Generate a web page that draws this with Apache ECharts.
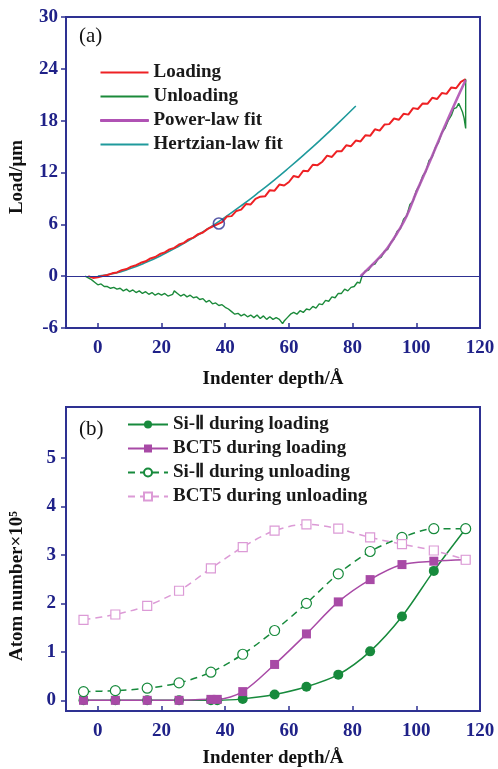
<!DOCTYPE html>
<html>
<head>
<meta charset="utf-8">
<script src="https://cdn.jsdelivr.net/npm/echarts@6/dist/echarts.min.js"></script>
<style>
  html, body { margin: 0; padding: 0; background: #fff; }
  #main { width: 498px; height: 769px; }
</style>
</head>
<body>
<div id="main"></div>
<script>
// ---- panel (a): load vs indenter depth ----
var loading = [
  [-3, 0], [-1.5, -0.2], [0, -0.12], [1.5, 0.02], [3, 0.13], [4.5, 0.33], [6, 0.43], [7.5, 0.7],
  [9, 0.82], [10.5, 1.1], [12, 1.27], [13.5, 1.55], [15, 1.72], [16.5, 2.05], [18, 2.22], [19.5, 2.56],
  [21, 2.76], [22.5, 3.1], [24, 3.27], [25.5, 3.66], [27, 3.86], [28.5, 4.26], [30, 4.46], [31.5, 4.86],
  [33, 5.05], [34.5, 5.47], [36, 5.75], [37.5, 6.0], [39, 6.25], [40.5, 6.9], [42, 6.95], [43.5, 7.55],
  [45, 7.7], [46.5, 8.35], [48, 8.3], [49.5, 8.95], [51, 9.2], [52.5, 9.25], [54, 9.95], [55.5, 9.9],
  [57, 10.6], [58.5, 10.5], [60, 10.9], [61.5, 11.6], [63, 11.45], [64.5, 12.2], [66, 12.15], [67.5, 12.9],
  [69, 12.85], [70.5, 13.25], [72, 13.95], [73.5, 13.8], [75, 14.45], [76.5, 14.45], [78, 15.15], [79.5, 15.05],
  [81, 15.7], [82.5, 15.6], [84, 16.3], [85.5, 16.25], [87, 17.0], [88.5, 16.85], [90, 17.55], [91.5, 17.6],
  [93, 18.25], [94.5, 18.1], [96, 18.8], [97.5, 18.7], [99, 19.45], [100.5, 19.35], [102, 20.0], [103.5, 19.95],
  [105, 20.65], [106.5, 20.5], [108, 21.2], [109.5, 21.1], [111, 21.85], [112.5, 21.75], [114, 22.5], [115.5, 22.8]
];
var unloading = [
  [115.5, 22.8], [115.5, 17.1], [115.0, 18.3], [114.5, 19.0], [113.8, 19.6], [113.3, 20.0], [112.6, 19.5],
  [111.8, 19.4], [111, 18.6], [110, 18.0], [109, 17.1], [108, 16.6], [107, 15.5], [106, 14.9], [105, 13.8],
  [104, 13.4], [103, 12.1], [102, 11.6], [101, 10.5], [100, 9.9], [99, 8.7], [98, 8.3], [97, 7.0], [96, 6.6],
  [95, 5.5], [94, 5.2], [93, 4.3], [92, 3.9], [91, 3.1], [90, 2.9], [89, 2.2], [88, 2.0], [87, 1.4], [86, 1.3],
  [85, 0.7], [84, 0.6], [83, 0.05], [82.6, 0.0], [82.3, -0.8], [81.5, -0.7], [80.5, -1.2], [79.5, -1.3],
  [78.5, -1.7], [77.5, -1.5], [76.5, -2.0], [75.5, -2.0], [74.5, -2.5], [73.5, -2.4], [72.5, -2.9], [71.5, -2.8],
  [70.5, -3.3], [69.5, -3.2], [68.5, -3.7], [67.5, -3.5], [66.5, -3.9], [65.5, -3.8], [64.5, -4.2], [63.5, -4.0],
  [62.5, -4.4], [61.5, -4.2], [60.5, -4.4], [59.5, -4.8], [58.5, -5.2], [58, -5.5], [57, -5.0], [56, -4.8],
  [55, -5.0], [54, -4.7], [53, -5.0], [52, -4.6], [51, -4.9], [50, -4.5], [49, -4.8], [48, -4.5], [47, -4.7],
  [46, -4.4], [45, -4.6], [44, -4.3], [43, -4.4], [42, -4.1], [41, -3.8], [40, -3.6], [39, -3.3], [38, -3.4],
  [37, -3.1], [36, -3.2], [35, -2.8], [34, -3.0], [33, -2.6], [32, -2.7], [31, -2.4], [30, -2.5], [29, -2.2],
  [28, -2.4], [27, -2.1], [26, -2.3], [25, -2.0], [24, -1.7], [23.5, -2.1], [22, -2.3], [21, -2.0], [20, -2.2],
  [19, -2.0], [18, -2.2], [17, -1.9], [16, -2.1], [15, -1.8], [14, -2.0], [13, -1.7], [12, -1.9], [11, -1.6],
  [10, -1.8], [9, -1.5], [8, -1.7], [7, -1.4], [6, -1.5], [5, -1.3], [4, -1.4], [3, -1.2], [2, -1.2],
  [1, -0.9], [0, -1.0], [-1, -0.7], [-2, -0.4], [-3, -0.2], [-4, 0]
];
var powerFit = [
  [82.5, 0], [85, 0.9], [88, 2.0], [91, 3.3], [94, 5.0], [97, 7.0], [100, 9.7], [103, 12.2],
  [106, 14.8], [109, 17.4], [112, 19.9], [115.5, 22.7]
];
var hertzFit = [
  [0, 0], [5, 0.3], [10, 0.85], [15, 1.57], [20, 2.42], [25, 3.38], [30, 4.44], [35, 5.59], [40, 6.83],
  [45, 8.15], [50, 9.55], [55, 11.01], [60, 12.55], [65, 14.15], [70, 15.81], [75, 17.54], [81, 19.7]
];
var marked = [[38, 6.1]];

// ---- panel (b): atom numbers (x10^5) ----
var depthLoad = [-4.5, 5.5, 15.5, 25.5, 35.5, 37.5, 45.5, 55.5, 65.5, 75.5, 85.5, 95.5, 105.5, 115.5];
var siLoad = [0, 0, 0, 0, 0, 0, 0.03, 0.12, 0.28, 0.53, 1.01, 1.73, 2.67, 3.54];
var bctLoad = [0, 0, 0, 0, 0.02, 0.02, 0.18, 0.74, 1.37, 2.03, 2.49, 2.80, 2.87, 2.90];
var depthUnload = [-4.5, 5.5, 15.5, 25.5, 35.5, 45.5, 55.5, 65.5, 75.5, 85.5, 95.5, 105.5, 115.5];
var siUnload = [0.18, 0.20, 0.25, 0.36, 0.58, 0.95, 1.44, 2.00, 2.61, 3.07, 3.36, 3.54, 3.54];
var bctUnload = [1.66, 1.77, 1.95, 2.26, 2.72, 3.16, 3.50, 3.63, 3.54, 3.36, 3.22, 3.09, 2.90];

var xTicks = [0, 20, 40, 60, 80, 100, 120];
var yTicksB = [0, 1, 2, 3, 4, 5];

function zip(xs, ys) {
  return xs.map(function (x, i) { return [x, ys[i]]; });
}

var FONT = "'Liberation Serif', 'Times New Roman', serif";
var NAVY = '#2e3192';
var LABEL = '#1f2188';

function xAxis(gridIndex, gap) {
  return {
    type: 'value', gridIndex: gridIndex, min: -10, max: 120,
    name: 'Indenter depth/Å', nameLocation: 'middle', nameGap: gap,
    nameTextStyle: { fontFamily: FONT, fontSize: 19, fontWeight: 'bold', color: '#111' },
    axisLine: { onZero: false, lineStyle: { color: NAVY, width: 2 } },
    axisTick: { inside: true, length: 5, customValues: xTicks, lineStyle: { color: NAVY, width: 1.5 } },
    axisLabel: { customValues: xTicks, margin: 11, fontFamily: FONT, fontSize: 19, fontWeight: 'bold', color: LABEL },
    splitLine: { show: false }
  };
}

var myChart = echarts.init(document.getElementById('main'));
var option = {
  backgroundColor: '#fff',
  animation: false,
  grid: [
    { left: 66, top: 17, width: 414, height: 311, show: true, borderColor: NAVY, borderWidth: 2 },
    { left: 66, top: 407, width: 414, height: 309, show: true, borderColor: NAVY, borderWidth: 2 }
  ],
  xAxis: [xAxis(0, 42), xAxis(1, 38)],
  yAxis: [
    {
      type: 'value', gridIndex: 0, min: -6, max: 30, interval: 6,
      axisLine: { onZero: false, lineStyle: { color: NAVY, width: 2 } },
      axisTick: { length: 5, lineStyle: { color: NAVY, width: 1.5 } },
      axisLabel: { margin: 8, fontFamily: FONT, fontSize: 19, fontWeight: 'bold', color: LABEL },
      splitLine: { show: false }
    },
    {
      type: 'value', gridIndex: 1, min: -0.22, max: 6.05,
      axisLine: { onZero: false, lineStyle: { color: NAVY, width: 2 } },
      axisTick: { length: 5, customValues: yTicksB, lineStyle: { color: NAVY, width: 1.5 } },
      axisLabel: { customValues: yTicksB, margin: 10, fontFamily: FONT, fontSize: 19, fontWeight: 'bold', color: LABEL },
      splitLine: { show: false }
    }
  ],
  legend: [
    {
      left: 95, top: 58, orient: 'vertical', icon: 'rect', itemWidth: 48, itemHeight: 2, itemGap: 5,
      textStyle: { fontFamily: FONT, fontSize: 19, fontWeight: 'bold', color: '#1a1a1a', lineHeight: 19 },
      data: ['Loading', 'Unloading', { name: 'Power-law fit', itemStyle: { borderColor: '#b052b4', borderWidth: 1 } }, 'Hertzian-law fit']
    },
    {
      left: 122, top: 410, orient: 'vertical', itemWidth: 40, itemHeight: 10, itemGap: 5,
      textStyle: { fontFamily: FONT, fontSize: 19, fontWeight: 'bold', color: '#1a1a1a', lineHeight: 19 },
      data: ['Si-Ⅱ during loading', 'BCT5 during loading', 'Si-Ⅱ during unloading', 'BCT5 during unloading']
    }
  ],
  graphic: [
    { type: 'text', left: 79, top: 26, style: { text: '(a)', font: '21px ' + FONT, fill: '#111' } },
    { type: 'text', left: 79, top: 419, style: { text: '(b)', font: '21px ' + FONT, fill: '#111' } },
    {
      type: 'text', x: 17, y: 177, rotation: Math.PI / 2,
      style: { text: 'Load/μm', font: 'bold 19px ' + FONT, fill: '#111', align: 'center', verticalAlign: 'middle' }
    },
    {
      type: 'text', x: 17, y: 586, rotation: Math.PI / 2,
      style: { text: 'Atom number×10⁵', font: 'bold 19px ' + FONT, fill: '#111', align: 'center', verticalAlign: 'middle' }
    }
  ],
  series: [
    {
      name: 'Hertzian-law fit', type: 'line', xAxisIndex: 0, yAxisIndex: 0, data: hertzFit,
      smooth: true, symbol: 'none', color: '#1f9a9c', lineStyle: { width: 1.6 }
    },
    {
      name: 'Loading', type: 'line', xAxisIndex: 0, yAxisIndex: 0, data: loading,
      symbol: 'none', color: '#ee2124', lineStyle: { width: 2 },
      markLine: {
        silent: true, symbol: 'none', label: { show: false },
        lineStyle: { color: NAVY, width: 1.2, type: 'solid' },
        data: [{ yAxis: 0 }]
      }
    },
    {
      name: 'Unloading', type: 'line', xAxisIndex: 0, yAxisIndex: 0, data: unloading,
      symbol: 'none', color: '#1b8a3a', lineStyle: { width: 1.4 }
    },
    {
      name: 'Power-law fit', type: 'line', xAxisIndex: 0, yAxisIndex: 0, data: powerFit,
      smooth: true, symbol: 'none', color: '#b052b4', lineStyle: { width: 2.6, opacity: 0.9 }
    },
    {
      type: 'scatter', xAxisIndex: 0, yAxisIndex: 0, data: marked, symbol: 'circle', symbolSize: 11,
      itemStyle: { color: 'transparent', borderColor: NAVY, borderWidth: 1.6 }, z: 5
    },
    {
      name: 'Si-Ⅱ during loading', type: 'line', xAxisIndex: 1, yAxisIndex: 1, data: zip(depthLoad, siLoad),
      smooth: 0.3, symbol: 'circle', symbolSize: 10, color: '#178a3c', lineStyle: { width: 1.5 }
    },
    {
      name: 'BCT5 during loading', type: 'line', xAxisIndex: 1, yAxisIndex: 1, data: zip(depthLoad, bctLoad),
      smooth: 0.3, symbol: 'rect', symbolSize: 9, color: '#a84aa6', lineStyle: { width: 1.5 }
    },
    {
      name: 'Si-Ⅱ during unloading', type: 'line', xAxisIndex: 1, yAxisIndex: 1, data: zip(depthUnload, siUnload),
      smooth: 0.3, symbol: 'circle', symbolSize: 10, color: '#178a3c',
      itemStyle: { color: '#fff', borderColor: '#178a3c', borderWidth: 1.2 },
      lineStyle: { width: 1.5, type: [7, 5], color: '#178a3c' }
    },
    {
      name: 'BCT5 during unloading', type: 'line', xAxisIndex: 1, yAxisIndex: 1, data: zip(depthUnload, bctUnload),
      smooth: 0.3, symbol: 'rect', symbolSize: 9, color: '#dc9ad6',
      itemStyle: { color: '#fff', borderColor: '#dc9ad6', borderWidth: 1.2 },
      lineStyle: { width: 1.5, type: [7, 5], color: '#dc9ad6' }
    }
  ]
};
myChart.setOption(option);
</script>
</body>
</html>
